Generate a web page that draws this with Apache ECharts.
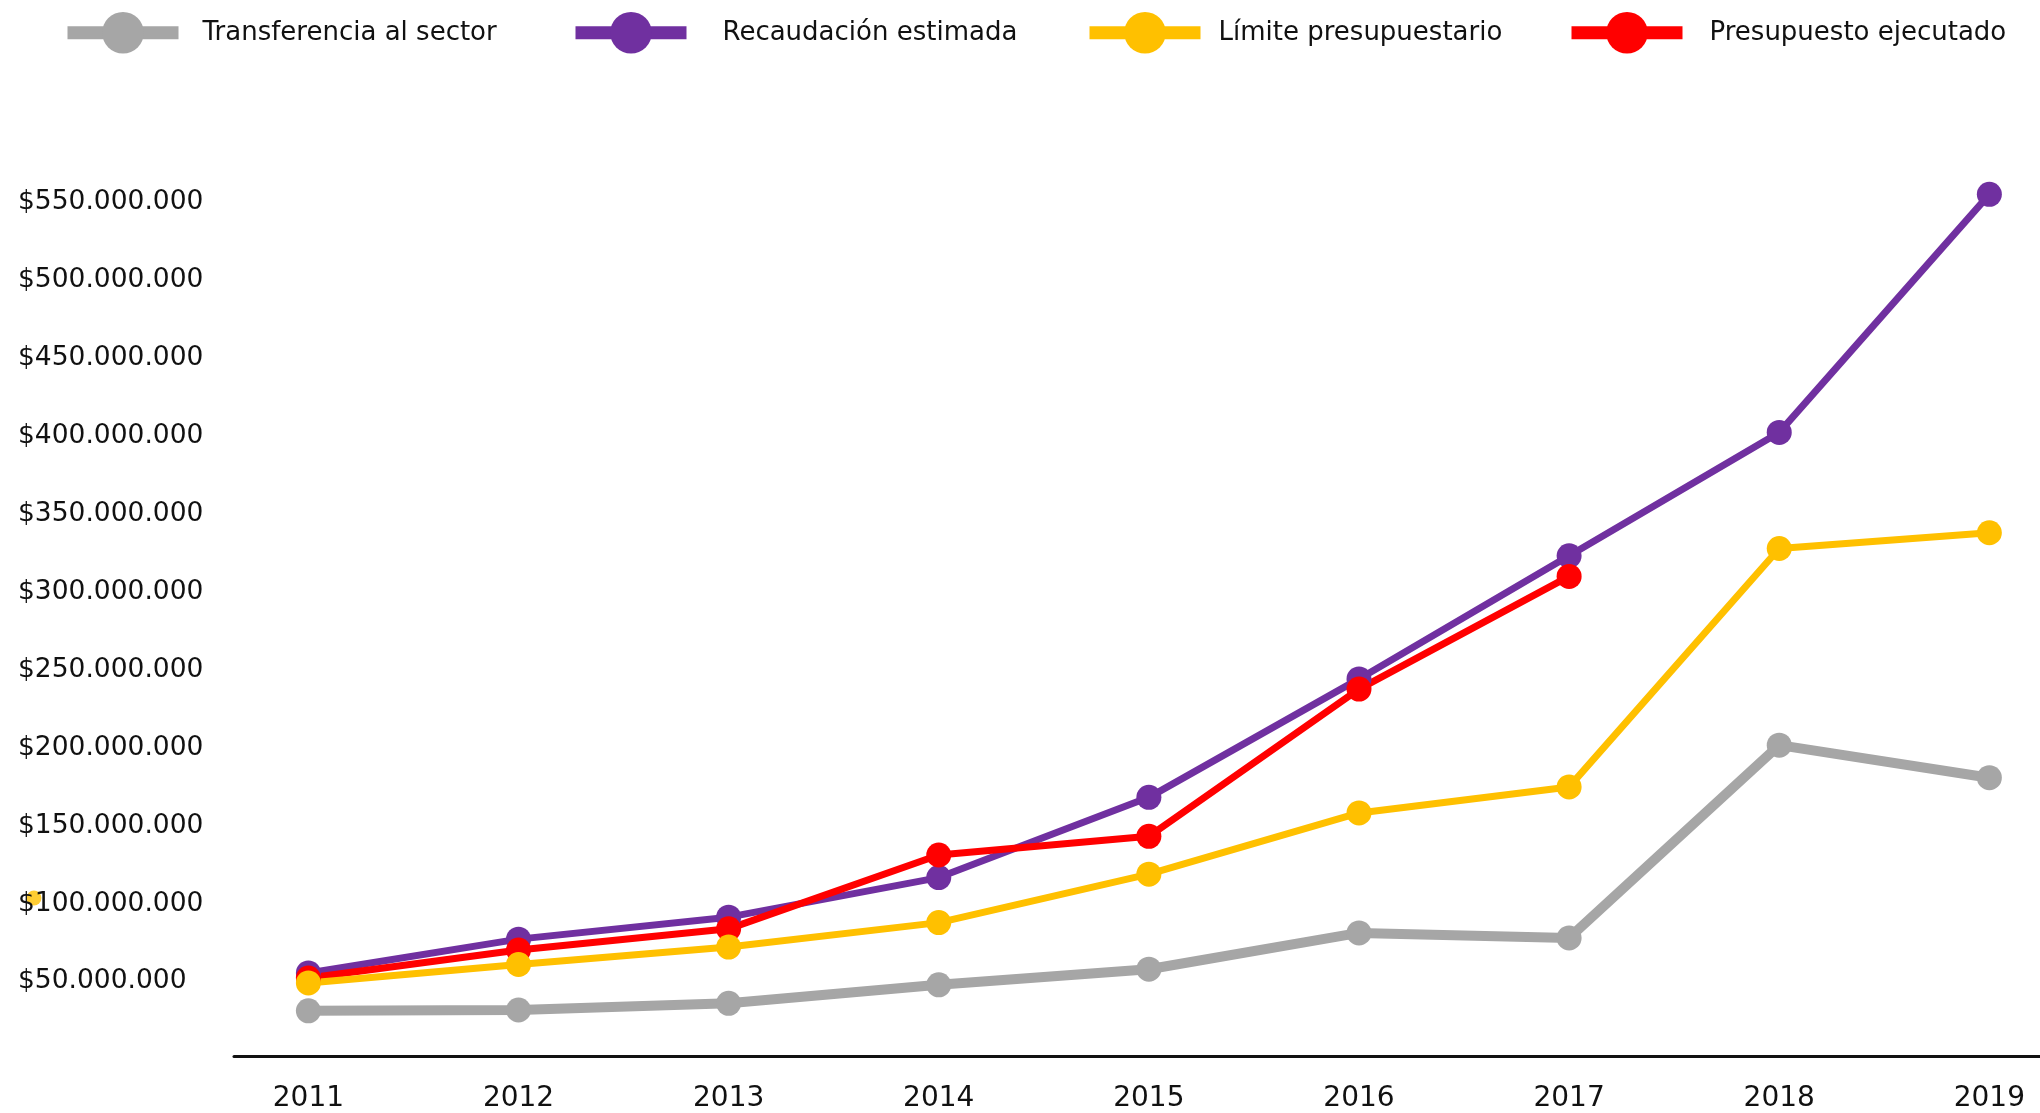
<!DOCTYPE html>
<html>
<head>
<meta charset="utf-8">
<script src="https://cdn.jsdelivr.net/npm/echarts@6/dist/echarts.min.js"></script>
<style>
html,body{margin:0;padding:0;background:#fff;}
#chart{width:2040px;height:1113px;}
</style>
</head>
<body>
<div id="chart"></div>
<script>
// ---- data ----
const years = [2011, 2012, 2013, 2014, 2015, 2016, 2017, 2018, 2019];
const seriesNames = ['Transferencia al sector', 'Recaudación estimada', 'Límite presupuestario', 'Presupuesto ejecutado'];
const transferencia = [29000000, 29500000, 33800000, 45700000, 55700000, 79000000, 75800000, 199500000, 178600000];
const recaudacion = [53300000, 75000000, 89100000, 114500000, 166000000, 242000000, 321000000, 400200000, 553000000];
const limite = [46900000, 58700000, 69900000, 85600000, 116700000, 156000000, 172700000, 325700000, 335800000];
const ejecutado = [50000000, 68000000, 81600000, 129000000, 141000000, 235500000, 307800000, null, null];
const strayPoint = [[2009.694, 101400000]];
const yTicks = { min: 0, max: 550000000, interval: 50000000 };

const colors = { gray: '#a6a6a6', purple: '#7030a0', yellow: '#ffc000', red: '#ff0000' };
const FONT = 'DejaVu Sans';

function pairs(vals) { return years.map((y, i) => [y, vals[i]]); }
function money(v) { return '$' + String(Math.round(v)).replace(/\B(?=(\d{3})+(?!\d))/g, '.'); }

function lineSeries(name, vals, color, width) {
  return {
    name: name, type: 'line', data: pairs(vals),
    symbol: 'circle', symbolSize: 25, clip: false,
    lineStyle: { color: color, width: width },
    itemStyle: { color: color },
    connectNulls: false
  };
}

function legendAt(name, left, gap) {
  return {
    data: [name], left: left, top: 12, padding: 0,
    itemWidth: 111, itemHeight: 52,
    lineStyle: { width: 13 },
    textStyle: { fontFamily: FONT, fontSize: 26, color: '#111', padding: [0, 0, 0, gap] },
    selectedMode: false
  };
}

const chart = echarts.init(document.getElementById('chart'));
chart.setOption({
  animation: false,
  backgroundColor: '#ffffff',
  legend: [
    legendAt(seriesNames[0], 61, 19),
    legendAt(seriesNames[1], 569, 31),
    legendAt(seriesNames[2], 1083, 13),
    legendAt(seriesNames[3], 1565, 22)
  ],
  grid: { left: 234, right: 0, top: 199, bottom: 57, containLabel: false },
  xAxis: {
    type: 'value', min: 2010.646, max: 2019.241,
    axisLine: { show: true, lineStyle: { color: '#111', width: 3 } },
    axisTick: { show: false },
    splitLine: { show: false },
    axisLabel: {
      customValues: years,
      formatter: v => String(v),
      margin: 29,
      fontFamily: FONT, fontSize: 28, color: '#111'
    }
  },
  yAxis: {
    type: 'value', min: yTicks.min, max: yTicks.max, interval: yTicks.interval,
    axisLine: { show: false }, axisTick: { show: false }, splitLine: { show: false },
    axisLabel: {
      showMinLabel: false,
      align: 'left', margin: 216,
      verticalAlign: 'top', lineHeight: 7,
      formatter: v => money(v),
      fontFamily: FONT, fontSize: 26.5, color: '#111'
    }
  },
  series: [
    {
      type: 'scatter', data: strayPoint, symbolSize: 15, clip: false, silent: true,
      itemStyle: { color: colors.yellow }, z: -1
    },
    lineSeries(seriesNames[0], transferencia, colors.gray, 10),
    lineSeries(seriesNames[1], recaudacion, colors.purple, 7),
    lineSeries(seriesNames[3], ejecutado, colors.red, 7),
    lineSeries(seriesNames[2], limite, colors.yellow, 7)
  ]
});
</script>
</body>
</html>
